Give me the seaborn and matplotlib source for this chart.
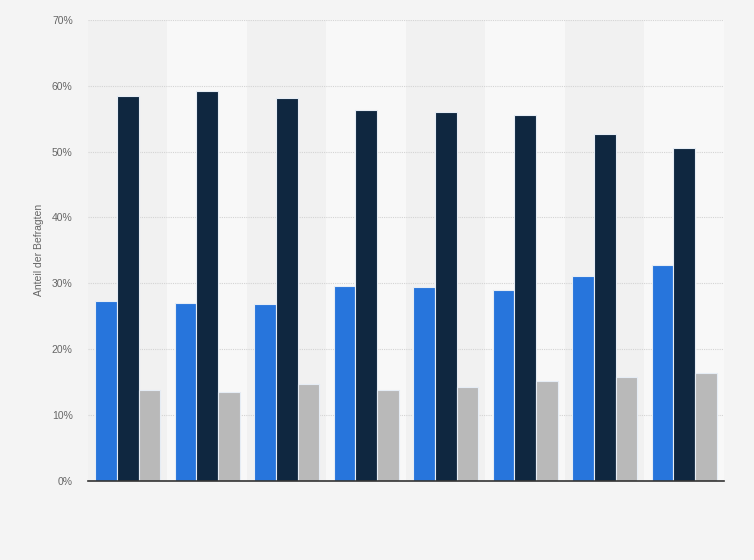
import pandas as pd
import seaborn as sns
import matplotlib.pyplot as plt
from matplotlib.ticker import FuncFormatter

# Values (percent of respondents)
groups = ['G1', 'G2', 'G3', 'G4', 'G5', 'G6', 'G7', 'G8']
series_names = ['Serie 1', 'Serie 2', 'Serie 3']
serie_1 = [27.3, 27.0, 26.9, 29.6, 29.4, 28.9, 31.1, 32.7]
serie_2 = [58.4, 59.2, 58.1, 56.3, 56.0, 55.6, 52.7, 50.6]
serie_3 = [13.7, 13.4, 14.6, 13.7, 14.2, 15.2, 15.8, 16.3]
y_ticks = [0, 10, 20, 30, 40, 50, 60, 70]

df = pd.DataFrame({
    'group': groups * 3,
    'serie': [s for s in series_names for _ in groups],
    'value': serie_1 + serie_2 + serie_3,
})

sns.set_theme(style="white")
plt.rcParams['font.family'] = ['Liberation Sans', 'DejaVu Sans']

fig = plt.figure(figsize=(7.54, 5.6), dpi=100, facecolor='#f4f4f4')
ax = fig.add_axes([0.1167, 0.1419, 0.8435, 0.8224])
ax.set_facecolor('#f4f4f4')

# alternating column bands
for i in range(len(groups)):
    ax.axvspan(i - 0.5, i + 0.5, color='#f1f1f1' if i % 2 == 0 else '#f8f8f8', zorder=0, lw=0)

palette = ['#2775dc', '#0f2740', '#b9b9b9']
sns.barplot(data=df, x='group', y='value', hue='serie', palette=palette, width=0.82,
            edgecolor='#e6edf5', linewidth=0.8, saturation=1, ax=ax, zorder=3, legend=False)

ax.set_xlim(-0.5, len(groups) - 0.5)
ax.set_ylim(0, 70)
ax.set_yticks(y_ticks)
ax.yaxis.set_major_formatter(FuncFormatter(lambda v, p: f'{v:.0f}%'))
ax.grid(axis='y', color='#d4d4d4', linestyle=(0, (1, 1)), linewidth=0.8, zorder=1)
ax.set_axisbelow(False)
ax.set_xticks([])
ax.set_xlabel('')
ax.set_ylabel('Anteil der Befragten', fontsize=7.5, color='#666666', labelpad=6)
ax.tick_params(axis='y', labelsize=7.5, labelcolor='#666666', length=0, pad=11)

for side in ['top', 'right', 'left']:
    ax.spines[side].set_visible(False)
ax.spines['bottom'].set_color('#333333')
ax.spines['bottom'].set_linewidth(1.2)
ax.spines['bottom'].set_zorder(5)

fig.savefig('out.png', dpi=100, facecolor=fig.get_facecolor())
